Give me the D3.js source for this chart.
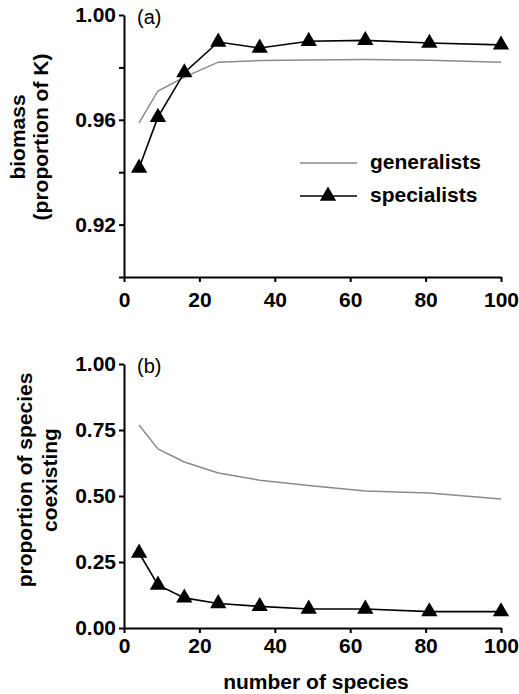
<!DOCTYPE html>
<html>
<head>
<meta charset="utf-8">
<script src="https://cdn.jsdelivr.net/npm/d3@7"></script>
<style>
  body { margin: 0; background: #fff; }
  text { font-family: "Liberation Sans", Arial, sans-serif; }
</style>
</head>
<body>
<svg id="drawing_region"></svg>
<script>
const species = [4, 9, 16, 25, 36, 49, 64, 81, 100];

const biomass_generalists = [0.9588, 0.971, 0.9763, 0.982, 0.9826, 0.9828, 0.9830, 0.9827, 0.982];
const biomass_specialists = [0.9416, 0.961, 0.978, 0.9897, 0.9874, 0.9900, 0.9903, 0.9893, 0.9886];

const coexist_generalists = [0.769, 0.678, 0.629, 0.587, 0.560, 0.540, 0.519, 0.511, 0.489];
const coexist_specialists = [0.284, 0.163, 0.114, 0.093, 0.082, 0.072, 0.072, 0.062, 0.062];

const x_ticks = [0, 20, 40, 60, 80, 100];
const biomass_ticks = [0.90, 0.92, 0.94, 0.96, 0.98, 1.00];
const biomass_labels = [0.92, 0.96, 1.00];
const coexist_ticks = [0, 0.25, 0.5, 0.75, 1.0];

const svg = d3.select('#drawing_region')
    .attr('width', 519)
    .attr('height', 694);

class LinePanel {
    constructor(config) {
        this.config = config;
        this.init();
    }

    init() {
        let self = this;
        const c = self.config;

        self.x = d3.scaleLinear().domain([0, 100]).range([124, 501]);
        self.y = d3.scaleLinear().domain(c.y_domain).range([c.bottom, c.top]);

        self.g = svg.append('g');

        // x axis
        const xaxis = self.g.append('g')
            .attr('transform', `translate(0,${c.bottom})`)
            .call(d3.axisBottom(self.x).tickValues(x_ticks).tickSize(5).tickPadding(c.x_pad).tickSizeOuter(0));
        // y axis
        const yaxis = self.g.append('g')
            .attr('transform', `translate(124,0)`)
            .call(d3.axisLeft(self.y).tickValues(c.y_ticks).tickSize(5).tickPadding(3).tickSizeOuter(0)
                .tickFormat(d => c.y_labels.some(v => Math.abs(v - d) < 1e-9) ? d3.format('.2f')(d) : ''));

        [xaxis, yaxis].forEach(a => {
            a.select('.domain').attr('stroke', '#000').attr('stroke-width', 2);
            a.selectAll('.tick line').attr('stroke', '#000').attr('stroke-width', 2);
            a.selectAll('.tick text')
                .attr('fill', '#000')
                .style('font-size', '21px')
                .style('font-weight', 'bold');
        });

        // panel letter
        self.g.append('text')
            .attr('x', 137)
            .attr('y', c.top + 9)
            .style('font-size', '20px')
            .text(c.letter);

        // y title (two lines, rotated)
        const yt = self.g.append('text')
            .attr('transform', `translate(0,${c.title_y}) rotate(-90)`)
            .attr('text-anchor', 'middle')
            .style('font-size', '21px')
            .style('font-weight', 'bold');
        c.y_title.forEach((t, i) => {
            yt.append('tspan')
                .attr('x', 0)
                .attr('y', c.title_x[i])
                .text(t);
        });
    }

    render(gen, spec) {
        let self = this;
        const line = d3.line()
            .x((d, i) => self.x(species[i]))
            .y(d => self.y(d));

        self.g.append('path')
            .datum(gen)
            .attr('d', line)
            .attr('fill', 'none')
            .attr('stroke', '#8a8a8a')
            .attr('stroke-width', 1.5);

        self.g.append('path')
            .datum(spec)
            .attr('d', line)
            .attr('fill', 'none')
            .attr('stroke', '#000')
            .attr('stroke-width', 1.6);

        self.g.selectAll('.tri')
            .data(spec)
            .enter()
            .append('path')
            .attr('d', d3.symbol().type(d3.symbolTriangle).size(115))
            .attr('transform', (d, i) => `translate(${self.x(species[i])},${self.y(d)})`)
            .attr('fill', '#000');
    }
}

const panel_a = new LinePanel({
    y_domain: [0.90, 1.00], top: 15, bottom: 277,
    y_ticks: biomass_ticks, y_labels: biomass_labels,
    x_pad: 10, letter: '(a)',
    y_title: ['biomass', '(proportion of K)'], title_x: [25, 48], title_y: 137
});
panel_a.render(biomass_generalists, biomass_specialists);

const panel_b = new LinePanel({
    y_domain: [0, 1], top: 364, bottom: 628,
    y_ticks: coexist_ticks, y_labels: coexist_ticks,
    x_pad: 5, letter: '(b)',
    y_title: ['proportion of species', 'coexisting'], title_x: [32, 57], title_y: 480
});
panel_b.render(coexist_generalists, coexist_specialists);

// legend
const legend = svg.append('g');
legend.append('line')
    .attr('x1', 300).attr('x2', 357).attr('y1', 163).attr('y2', 163)
    .attr('stroke', '#8a8a8a').attr('stroke-width', 1.5);
legend.append('line')
    .attr('x1', 300).attr('x2', 357).attr('y1', 196).attr('y2', 196)
    .attr('stroke', '#000').attr('stroke-width', 1.6);
legend.append('path')
    .attr('d', d3.symbol().type(d3.symbolTriangle).size(115))
    .attr('transform', 'translate(328,196)')
    .attr('fill', '#000');
legend.append('text')
    .attr('x', 370).attr('y', 169)
    .style('font-size', '21px').style('font-weight', 'bold')
    .text('generalists');
legend.append('text')
    .attr('x', 370).attr('y', 202)
    .style('font-size', '21px').style('font-weight', 'bold')
    .text('specialists');

// x title
svg.append('text')
    .attr('x', 316).attr('y', 689)
    .attr('text-anchor', 'middle')
    .style('font-size', '21px').style('font-weight', 'bold')
    .text('number of species');
</script>
</body>
</html>
